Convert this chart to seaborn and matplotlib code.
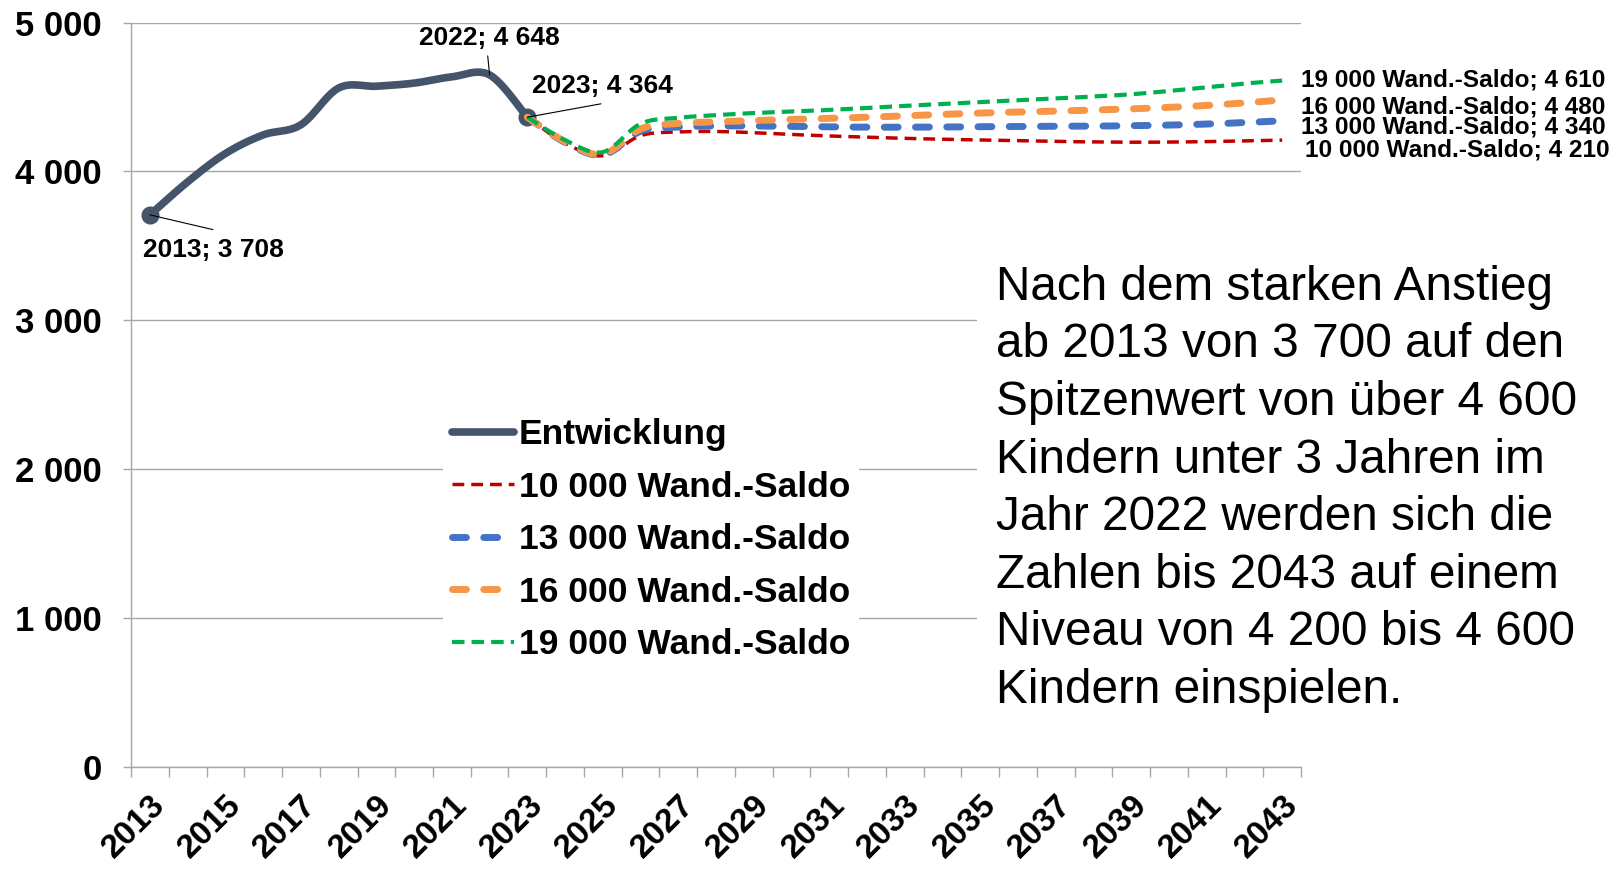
import numpy as np
import pandas as pd
import matplotlib
matplotlib.use("Agg")
import matplotlib.pyplot as plt
import matplotlib.transforms as mtransforms
from matplotlib.lines import Line2D
from matplotlib.patches import Rectangle
import seaborn as sns

# ---- data -------------------------------------------------------------
years_hist = [2013, 2014, 2015, 2016, 2017, 2018, 2019, 2020, 2021, 2022, 2023]
entwicklung = [3708, 3930, 4120, 4245, 4313, 4560, 4572, 4593, 4635, 4648, 4364]

years_proj = list(range(2023, 2044))
saldo_10000 = [4364, 4190, 4105, 4240, 4265, 4268, 4260, 4248, 4238, 4230, 4222,
               4216, 4211, 4206, 4201, 4198, 4196, 4197, 4200, 4205, 4210]
saldo_13000 = [4364, 4195, 4110, 4270, 4298, 4305, 4305, 4302, 4299, 4297, 4297,
               4298, 4300, 4302, 4303, 4304, 4307, 4311, 4318, 4328, 4340]
saldo_16000 = [4364, 4200, 4115, 4285, 4322, 4333, 4342, 4349, 4356, 4364, 4373,
               4383, 4392, 4399, 4405, 4412, 4420, 4430, 4443, 4460, 4480]
saldo_19000 = [4364, 4210, 4130, 4320, 4360, 4378, 4392, 4402, 4413, 4426, 4440,
               4453, 4466, 4478, 4490, 4503, 4518, 4540, 4565, 4590, 4610]

series_labels = ["Entwicklung", "10 000 Wand.-Saldo", "13 000 Wand.-Saldo",
                 "16 000 Wand.-Saldo", "19 000 Wand.-Saldo"]
tick_years = list(range(2013, 2044, 2))
y_ticks = [0, 1000, 2000, 3000, 4000, 5000]

info_text = ("Nach dem starken Anstieg\n"
             "ab 2013 von 3 700 auf den\n"
             "Spitzenwert von über 4 600\n"
             "Kindern unter 3 Jahren im\n"
             "Jahr 2022 werden sich die\n"
             "Zahlen bis 2043 auf einem\n"
             "Niveau von 4 200 bis 4 600\n"
             "Kindern einspielen.")


def fmt(v):
    return f"{v:,}".replace(",", " ")


def smooth(xs, ys, n=24):
    """Bezier smoothing through every point (spreadsheet style)."""
    x = np.asarray(xs, float)
    y = np.asarray(ys, float)
    px = np.concatenate([[x[0]], x, [x[-1]]])
    py = np.concatenate([[y[0]], y, [y[-1]]])
    outx, outy = [x[0]], [y[0]]
    t = np.linspace(0, 1, n + 1)[1:]
    for i in range(1, len(px) - 2):
        p0 = np.array([px[i], py[i]])
        p3 = np.array([px[i + 1], py[i + 1]])
        c1 = p0 + (p3 - np.array([px[i - 1], py[i - 1]])) / 6.0
        c2 = p3 - (np.array([px[i + 2], py[i + 2]]) - p0) / 6.0
        pts = (((1 - t) ** 3)[:, None] * p0 + (3 * (1 - t) ** 2 * t)[:, None] * c1
               + (3 * (1 - t) * t ** 2)[:, None] * c2 + (t ** 3)[:, None] * p3)
        outx.extend(pts[:, 0])
        outy.extend(pts[:, 1])
    return pd.DataFrame({"x": outx, "y": outy})


# ---- styles -----------------------------------------------------------
GRID = "#A6A6A6"
styles = {
    "Entwicklung": dict(color="#44546A", lw=5.5, ls="-", solid_capstyle="round"),
    "10 000 Wand.-Saldo": dict(color="#C00000", lw=2.5, ls=(0, (3.4, 2.0))),
    "13 000 Wand.-Saldo": dict(color="#4472C4", lw=5.0, ls=(0, (2.0, 2.5)),
                               dash_capstyle="round"),
    "16 000 Wand.-Saldo": dict(color="#F79646", lw=5.0, ls=(0, (2.0, 2.5)),
                               dash_capstyle="round"),
    "19 000 Wand.-Saldo": dict(color="#00B050", lw=3.0, ls=(0, (3.0, 1.7))),
}

sns.set_theme(style="white")
plt.rcParams["font.family"] = ["Liberation Sans", "DejaVu Sans"]
plt.rcParams["text.color"] = "black"
plt.rcParams["xtick.color"] = "black"
plt.rcParams["ytick.color"] = "black"

fig = plt.figure(figsize=(16.16, 8.69), dpi=100)
ax = fig.add_axes([0.0811, 0.1174, 0.724, 0.8567])

# ---- lines ------------------------------------------------------------
all_series = [
    ("Entwicklung", years_hist, entwicklung),
    ("10 000 Wand.-Saldo", years_proj, saldo_10000),
    ("13 000 Wand.-Saldo", years_proj, saldo_13000),
    ("16 000 Wand.-Saldo", years_proj, saldo_16000),
    ("19 000 Wand.-Saldo", years_proj, saldo_19000),
]
for i, (name, xs, ys) in enumerate(all_series):
    st = styles[name]
    df = smooth(xs, ys)
    extra = {k: v for k, v in st.items() if k not in ("color", "lw", "ls")}
    sns.lineplot(data=df, x="x", y="y", ax=ax, sort=False, estimator=None,
                 color=st["color"], linewidth=st["lw"], linestyle=st["ls"],
                 zorder=3 + i, **extra)
    if name == "Entwicklung":
        marks = pd.DataFrame({"x": [xs[0], xs[-1]], "y": [ys[0], ys[-1]]})
        ax.plot(marks["x"], marks["y"], ls="none", marker="o", ms=12,
                color=st["color"], zorder=3)

# ---- axes -------------------------------------------------------------
ax.set_xlim(2012.5, 2043.5)
ax.set_ylim(0, 5000)
ax.set_xlabel("")
ax.set_ylabel("")
ax.set_xticks(np.arange(2012.5, 2044.0, 1.0))
ax.set_xticklabels([])
ax.set_xticks(tick_years, minor=True)
ax.set_xticklabels([str(y) for y in tick_years], minor=True, rotation=45,
                   ha="right", rotation_mode="anchor", fontsize=24,
                   fontweight="bold", color="black")
shift = mtransforms.ScaledTranslation(-13 / 100, 0, fig.dpi_scale_trans)
for lab in ax.get_xticklabels(minor=True):
    lab.set_transform(lab.get_transform() + shift)
ax.tick_params(axis="x", which="major", length=7, width=1, color=GRID,
               direction="out", bottom=True)
ax.tick_params(axis="x", which="minor", length=0, pad=16, bottom=True)
ax.set_yticks(y_ticks)
ax.set_yticklabels([fmt(v) for v in y_ticks], fontsize=25, fontweight="bold",
                   color="black")
ax.tick_params(axis="y", length=6, width=1, color=GRID, pad=15, left=True)
ax.yaxis.grid(True, color=GRID, lw=1.0)
ax.xaxis.grid(False)
ax.set_axisbelow(True)
for s in ("top", "right"):
    ax.spines[s].set_visible(False)
for s in ("left", "bottom"):
    ax.spines[s].set_color(GRID)
    ax.spines[s].set_linewidth(1.0)

# ---- point labels -----------------------------------------------------
ann = dict(fontsize=19, fontweight="bold", ha="center", va="center", zorder=10,
           color="black")
line_kw = dict(arrowstyle="-", lw=0.8, color="black", shrinkA=0, shrinkB=0)
point_labels = [
    (years_hist[0], entwicklung[0], (2014.67, 3475), (2014.67, 3609)),
    (years_hist[9], entwicklung[9], (2022.0, 4895), (2021.95, 4776)),
    (years_hist[10], entwicklung[10], (2025.0, 4575), (2024.95, 4454)),
]
for x, y, txt_pos, lead_end in point_labels:
    ax.annotate("", xy=(x, y), xytext=lead_end, arrowprops=line_kw, zorder=9)
    ax.text(*txt_pos, f"{x}; {fmt(y)}", **ann)

# end values of the projections, right of the plot area
end_trans = mtransforms.blended_transform_factory(ax.transAxes, ax.transData)
end_labels = [
    (series_labels[4], saldo_19000[-1], 4615, 0.0),
    (series_labels[3], saldo_16000[-1], 4434, 0.0),
    (series_labels[2], saldo_13000[-1], 4300, 0.0),
    (series_labels[1], saldo_10000[-1], 4146, 0.003),
]
for name, val, ypos, dx in end_labels:
    ax.text(1.0 + dx, ypos, f"{name}; {fmt(val)}", transform=end_trans,
            ha="left", va="center", fontsize=17.6, fontweight="bold",
            color="black", clip_on=False)

# ---- legend -----------------------------------------------------------
handles = []
for name in series_labels:
    st = styles[name]
    extra = {k: v for k, v in st.items() if k not in ("color", "lw", "ls")}
    handles.append(Line2D([], [], color=st["color"], lw=st["lw"], ls=st["ls"],
                          **extra))
leg = ax.legend(handles, series_labels, loc="upper left",
                bbox_to_anchor=(0.2741, 0.5290), bbox_transform=fig.transFigure,
                borderaxespad=0, borderpad=0.25, handlelength=1.75,
                handletextpad=0.15, labelspacing=0.55, frameon=True,
                fancybox=False, prop=dict(weight="bold", size=25.5))
for t in leg.get_texts():
    t.set_color("black")
leg.get_frame().set_facecolor("white")
leg.get_frame().set_edgecolor("none")
leg.get_frame().set_alpha(1.0)
leg.set_zorder(20)

# ---- commentary -------------------------------------------------------
fig.patches.append(Rectangle((0.6046, 0.1715), 0.25, 0.5523,
                             transform=fig.transFigure, facecolor="white",
                             edgecolor="none", zorder=1))
fig.text(0.6163, 0.4375, info_text, ha="left", va="center", fontsize=34.4,
         linespacing=1.36, color="black", zorder=2)

fig.savefig("out.png", dpi=100, facecolor="white")
